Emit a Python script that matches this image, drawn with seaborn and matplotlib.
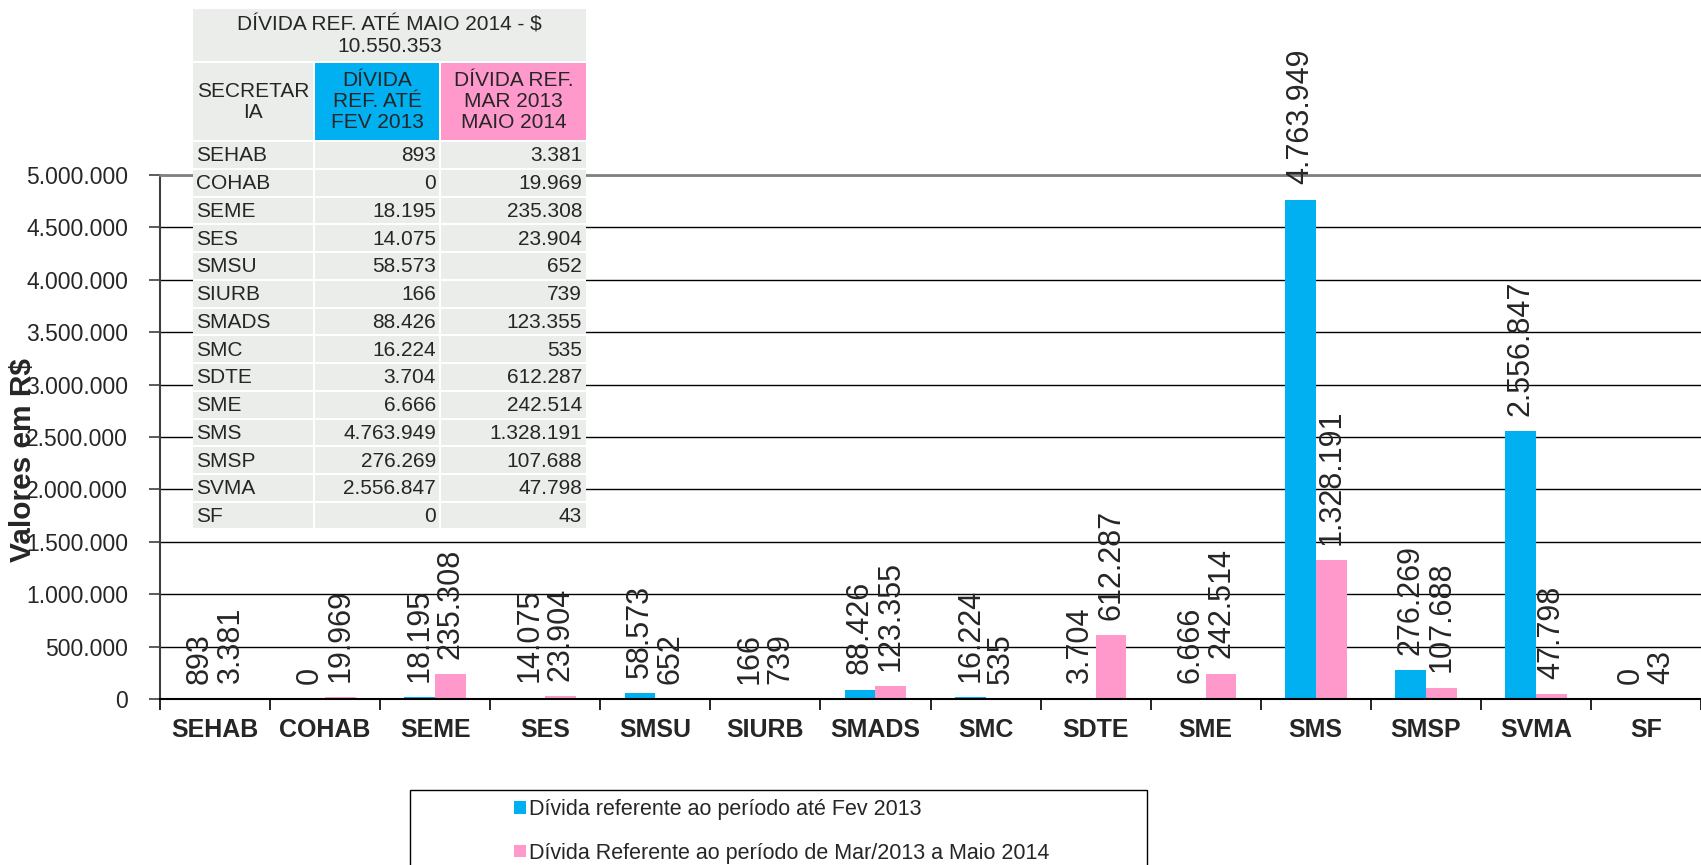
import numpy as np
import pandas as pd
import seaborn as sns
import matplotlib.pyplot as plt
from matplotlib.patches import Rectangle
from matplotlib.ticker import FuncFormatter

# -----------------------------------------------------
# Data
# -----------------------------------------------------
secretarias = ["SEHAB", "COHAB", "SEME", "SES", "SMSU", "SIURB", "SMADS",
               "SMC", "SDTE", "SME", "SMS", "SMSP", "SVMA", "SF"]
divida_ate_fev2013 = [893, 0, 18195, 14075, 58573, 166, 88426,
                      16224, 3704, 6666, 4763949, 276269, 2556847, 0]
divida_mar2013_mai2014 = [3381, 19969, 235308, 23904, 652, 739, 123355,
                          535, 612287, 242514, 1328191, 107688, 47798, 43]
periodos = ["Dívida referente ao período até Fev 2013",
            "Dívida Referente ao período de Mar/2013 a Maio 2014"]
cores = ["#00B0F0", "#FF99CC"]
titulo_tabela = "DÍVIDA REF. ATÉ MAIO 2014 - $\n10.550.353"
cabecalho = ["SECRETAR\nIA", "DÍVIDA\nREF. ATÉ\nFEV 2013", "DÍVIDA REF.\nMAR 2013\nMAIO 2014"]
cinza_tabela = "#EAEDEA"


def br(v):
    return f"{v:,.0f}".replace(",", ".")


df = pd.DataFrame({
    "secretaria": secretarias * 2,
    "valor": divida_ate_fev2013 + divida_mar2013_mai2014,
    "periodo": [periodos[0]] * len(secretarias) + [periodos[1]] * len(secretarias),
})

sns.set_style("white")
plt.rcParams["font.family"] = ["Liberation Sans", "DejaVu Sans"]

W, H = 1701, 865
fig = plt.figure(figsize=(W / 100, H / 100), dpi=100)
ax = fig.add_axes([160 / W, 1 - 699 / H, 1541 / W, 524 / H])

sns.barplot(data=df, x="secretaria", y="valor", hue="periodo", palette=cores,
            width=0.56, gap=0, saturation=1, linewidth=0, errorbar=None, ax=ax)

# data labels
for cont, vals in zip(ax.containers, [divida_ate_fev2013, divida_mar2013_mai2014]):
    ax.bar_label(cont, labels=[br(v) for v in vals], rotation=90,
                 padding=11, fontsize=22)

# -----------------------------------------------------
# Axes styling
# -----------------------------------------------------
ax.set_ylim(0, 5_000_000)
ax.set_yticks(np.arange(0, 5_000_001, 500_000))
ax.yaxis.set_major_formatter(FuncFormatter(lambda v, p: br(v)))
ax.grid(axis="y", color="black", lw=1)
ax.set_axisbelow(True)
ax.tick_params(axis="y", left=True, length=8, width=1.2, pad=15,
               labelsize=16.5, color="#404040")
ax.tick_params(axis="x", which="major", bottom=False, length=0, pad=14, labelsize=18)
for t in ax.get_xticklabels():
    t.set_fontweight("bold")
ax.set_xticks(np.arange(-0.5, len(secretarias), 1), minor=True)
ax.tick_params(axis="x", which="minor", bottom=True, length=8, width=1.2, color="black")
ax.set_xlim(-0.5, len(secretarias) - 0.5)
ax.set_xlabel("")
ax.set_ylabel("")
ax.spines["right"].set_visible(False)
ax.spines["top"].set_color("#808080")
ax.spines["top"].set_linewidth(2)
ax.spines["left"].set_color("#404040")
ax.spines["left"].set_linewidth(1.5)
ax.spines["bottom"].set_color("black")
ax.spines["bottom"].set_linewidth(1.5)

fig.text(23 / W, 1 - 460 / H, "Valores em R$", rotation=90, ha="center", va="center",
         fontsize=21.5, fontweight="bold")

# -----------------------------------------------------
# Legend (box cut by the bottom edge)
# -----------------------------------------------------
leg = ax.get_legend()
handles = leg.legend_handles
labels = [t.get_text() for t in leg.get_texts()]
leg.remove()
fig.legend(handles, labels, loc="upper left", bbox_to_anchor=(514 / W, 1 - 799 / H),
           frameon=False, fontsize=15.5, handlelength=0.55, handleheight=0.55,
           handletextpad=0.15, labelspacing=1.05, borderpad=0, borderaxespad=0)
fig.add_artist(Rectangle((410 / W, -0.05), 737 / W, (865 - 790) / H + 0.05,
                         transform=fig.transFigure, fill=False, ec="black", lw=1))

# -----------------------------------------------------
# Table overlay
# -----------------------------------------------------
tax = fig.add_axes([193 / W, 1 - 530.5 / H, 393 / W, 521.8 / H])
tax.set_xlim(0, 393)
tax.set_ylim(521.8, 0)
tax.axis("off")
cols = [(0, 120), (122, 246), (248, 393)]
fs = 15


def cell(x0, x1, y0, y1, color):
    tax.add_patch(Rectangle((x0, y0), x1 - x0, y1 - y0, fc=color, ec="none"))


cell(-1, 394, -1, 522.8, "white")
cell(0, 393, 0, 52, cinza_tabela)
tax.text(196.5, 27, titulo_tabela, ha="center", va="center", fontsize=fs, linespacing=1.15)

head_colors = [cinza_tabela, cores[0], cores[1]]
for (x0, x1), txt, c in zip(cols, cabecalho, head_colors):
    cell(x0, x1, 54, 131, c)
    tax.text((x0 + x1) / 2, 93, txt, ha="center", va="center", fontsize=fs, linespacing=1.15)

pitch = 27.74
for i, (sec, a, b) in enumerate(zip(secretarias, divida_ate_fev2013, divida_mar2013_mai2014)):
    y0 = 133.4 + i * pitch
    y1 = y0 + pitch - 2
    yc = (y0 + y1) / 2 + 1
    for x0, x1 in cols:
        cell(x0, x1, y0, y1, cinza_tabela)
    tax.text(cols[0][0] + 3, yc, sec, ha="left", va="center", fontsize=fs)
    tax.text(cols[1][1] - 3, yc, br(a), ha="right", va="center", fontsize=fs)
    tax.text(cols[2][1] - 4, yc, br(b), ha="right", va="center", fontsize=fs)

fig.savefig("out.png", dpi=100)
